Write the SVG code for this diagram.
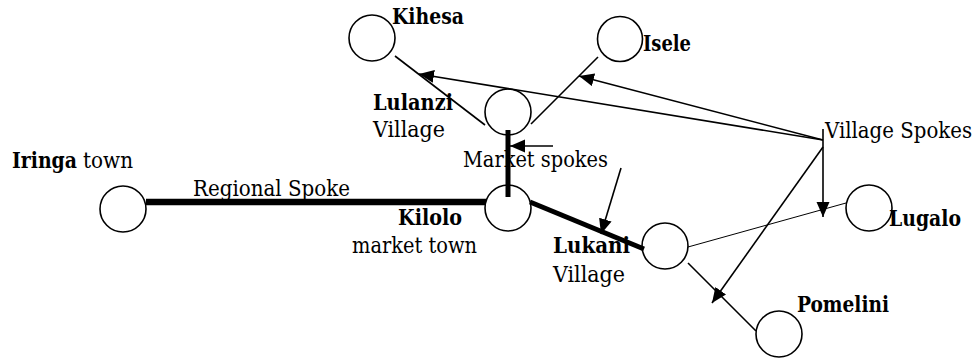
<svg xmlns="http://www.w3.org/2000/svg" width="980" height="360" viewBox="0 0 980 360">
<style>
.node{fill:#fff;stroke:#000;stroke-width:1.6}
text{font-family:'DejaVu Serif','Liberation Serif',serif;font-size:22px;fill:#000}
.b{font-weight:bold}
.ln{stroke:#000;stroke-width:1.6;fill:none}
.thin{stroke:#000;stroke-width:1;fill:none}
.thick{stroke:#000;fill:none}
</style>
<defs>
<marker id="ah" markerUnits="userSpaceOnUse" markerWidth="16" markerHeight="14" refX="15" refY="6.5" orient="auto">
<path d="M0,0 L15,6.5 L0,13 Z" fill="#000"/>
</marker>
</defs>
<g id="kihesa"><circle class="node" cx="372" cy="38" r="23"/><text class="b" x="392" y="24" textLength="72" lengthAdjust="spacingAndGlyphs">Kihesa</text></g>
<g id="isele"><circle class="node" cx="620" cy="39" r="22.5"/><text class="b" x="643" y="51" textLength="48" lengthAdjust="spacingAndGlyphs">Isele</text></g>
<g id="lulanzi"><circle class="node" cx="508" cy="112" r="23"/><text class="b" x="373" y="110" textLength="80" lengthAdjust="spacingAndGlyphs">Lulanzi</text><text x="373" y="137" textLength="72" lengthAdjust="spacingAndGlyphs">Village</text></g>
<g id="market-spokes"><text x="463" y="167" textLength="145" lengthAdjust="spacingAndGlyphs">Market spokes</text></g>
<g id="iringa"><circle class="node" cx="123" cy="209" r="23"/><text class="b" x="12" y="168" textLength="65" lengthAdjust="spacingAndGlyphs">Iringa</text><text x="83" y="168" textLength="50" lengthAdjust="spacingAndGlyphs">town</text></g>
<g id="regional-spoke"><text x="193" y="196" textLength="157" lengthAdjust="spacingAndGlyphs">Regional Spoke</text></g>
<g id="kilolo"><circle class="node" cx="508" cy="208" r="23"/><text class="b" x="398" y="225" textLength="64" lengthAdjust="spacingAndGlyphs">Kilolo</text><text x="352" y="253" textLength="125" lengthAdjust="spacingAndGlyphs">market town</text></g>
<g id="lukani"><circle class="node" cx="665" cy="246" r="23"/><text class="b" x="553" y="253" textLength="77" lengthAdjust="spacingAndGlyphs">Lukani</text><text x="553" y="282" textLength="72" lengthAdjust="spacingAndGlyphs">Village</text></g>
<g id="lugalo"><circle class="node" cx="869" cy="208" r="23"/><text class="b" x="889" y="226" textLength="72" lengthAdjust="spacingAndGlyphs">Lugalo</text></g>
<g id="pomelini"><circle class="node" cx="779" cy="334" r="23"/><text class="b" x="797" y="312" textLength="92" lengthAdjust="spacingAndGlyphs">Pomelini</text></g>
<g id="village-spokes"><text transform="translate(825 138) scale(0.86 1)" x="0" y="0" textLength="171" lengthAdjust="spacingAndGlyphs">Village Spokes</text></g>
<g id="connectors">
<line class="thick" x1="146" y1="202" x2="486" y2="202" stroke-width="6.5"/>
<line class="thick" x1="508" y1="130" x2="508" y2="197" stroke-width="5"/>
<line class="thick" x1="530" y1="202" x2="644" y2="249" stroke-width="5"/>
<line class="thin" x1="688" y1="247" x2="846" y2="203"/>
<line class="ln" x1="395" y1="56" x2="485" y2="125"/>
<line class="ln" x1="598" y1="57" x2="531" y2="124"/>
<line class="ln" x1="688" y1="263" x2="756" y2="331"/>
<line class="ln" x1="823" y1="140" x2="419" y2="74" marker-end="url(#ah)"/>
<line class="ln" x1="823" y1="140" x2="579" y2="76" marker-end="url(#ah)"/>
<line class="ln" x1="823" y1="129" x2="823" y2="217" marker-end="url(#ah)"/>
<line class="ln" x1="823" y1="147" x2="712" y2="303" marker-end="url(#ah)"/>
<line class="ln" x1="553" y1="146" x2="510" y2="146" marker-end="url(#ah)"/>
<line class="ln" x1="621" y1="168" x2="601" y2="234" marker-end="url(#ah)"/>
</g>
</svg>
